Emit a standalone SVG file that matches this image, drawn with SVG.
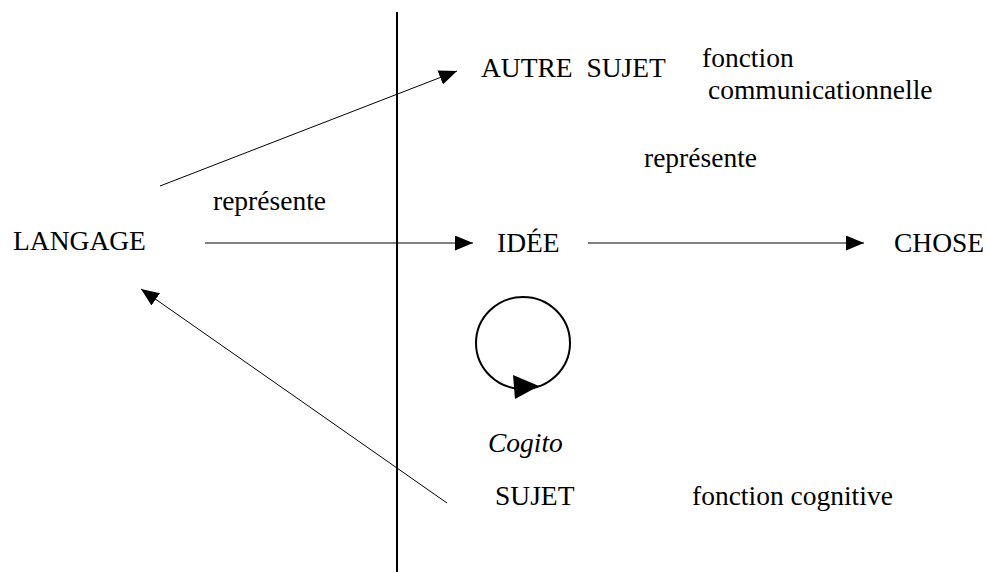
<svg xmlns="http://www.w3.org/2000/svg" width="988" height="572" viewBox="0 0 988 572">
<style>
text{font-size:27.5px;fill:#000;white-space:pre}
.it{font-style:italic}
.conn line{stroke:#000;stroke-width:1}
</style>
<defs>
<marker id="ah" markerUnits="userSpaceOnUse" markerWidth="19" markerHeight="16" refX="18" refY="7.5" orient="auto">
<path d="M0,0 L18,7.5 L0,15 z" fill="#000"/>
</marker>
</defs>
<rect width="988" height="572" fill="#fff"/>
<line x1="397" y1="12" x2="397" y2="572" stroke="#000" stroke-width="2"/>
<g id="connectors" class="conn">
<line x1="160" y1="186" x2="457" y2="71" marker-end="url(#ah)"/>
<line x1="205" y1="243" x2="473" y2="243" marker-end="url(#ah)"/>
<line x1="588" y1="243" x2="864" y2="243" marker-end="url(#ah)"/>
<line x1="447" y1="503" x2="141" y2="289" marker-end="url(#ah)"/>
<ellipse cx="523" cy="343" rx="47" ry="46" fill="none" stroke="#000" stroke-width="2"/>
<polygon points="513,375 539,386 515,399" fill="#000"/>
</g>
<g font-family="Liberation Serif, DejaVu Serif, serif">
<g id="langage"><text x="13" y="250">LANGAGE</text></g>
<g id="idee"><text x="497" y="252">IDÉE</text></g>
<g id="chose"><text x="894" y="252">CHOSE</text></g>
<g id="autre-sujet"><text x="481" y="77">AUTRE  SUJET</text></g>
<g id="fonction-comm"><text x="702" y="67">fonction</text><text x="708" y="99">communicationnelle</text></g>
<g id="label-represente-1"><text x="213" y="210">représente</text></g>
<g id="label-represente-2"><text x="644" y="167">représente</text></g>
<g id="cogito"><text class="it" x="488" y="452">Cogito</text></g>
<g id="sujet"><text x="495" y="505">SUJET</text></g>
<g id="fonction-cog"><text x="692" y="505">fonction cognitive</text></g>
</g>
</svg>
